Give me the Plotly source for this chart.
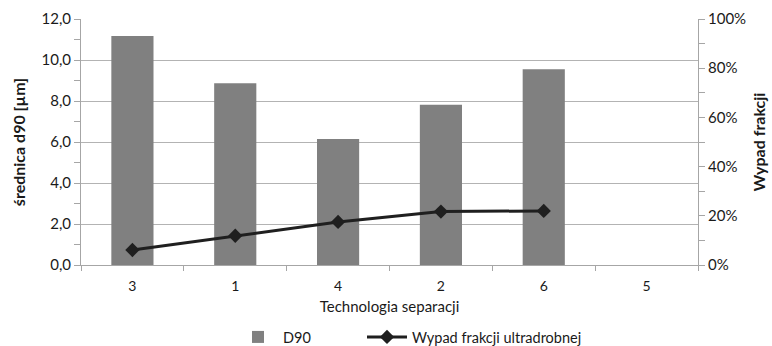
import plotly.graph_objects as go

# Separation technologies (category order on the x axis)
technologies = ["3", "1", "4", "2", "6", "5"]
# D90 diameter [µm] per technology (no value for technology 5)
d90 = [11.17, 8.86, 6.15, 7.82, 9.55, None]
# Ultrafine fraction yield per technology
ultrafine_yield = [0.061, 0.119, 0.175, 0.217, 0.220, None]

FONT = "Lato"
AXIS_GREY = "#a6a6a6"

fig = go.Figure()

fig.add_trace(go.Bar(
    x=technologies,
    y=d90,
    name="D90",
    marker=dict(color="#808080", line=dict(width=0)),
    width=0.41,
    yaxis="y",
    legend="legend",
))

fig.add_trace(go.Scatter(
    x=technologies,
    y=ultrafine_yield,
    name="Wypad frakcji ultradrobnej",
    mode="lines+markers",
    line=dict(color="#1f1f1f", width=3),
    marker=dict(symbol="diamond", size=11, color="#1f1f1f"),
    yaxis="y2",
    connectgaps=False,
    legend="legend2",
))

legend_common = dict(
    orientation="h",
    xref="container",
    yref="container",
    y=0.026,
    yanchor="middle",
    xanchor="left",
    font=dict(size=14.5),
    itemwidth=40,
    bgcolor="rgba(0,0,0,0)",
)

fig.update_layout(
    width=772,
    height=346,
    margin=dict(l=81, r=74, t=19, b=81, autoexpand=False),
    paper_bgcolor="white",
    plot_bgcolor="white",
    separators=", ",
    font=dict(family=FONT, size=15, color="#1a1a1a"),
    xaxis=dict(
        type="category",
        automargin=False,
        title=dict(text="Technologia separacji", font=dict(size=15), standoff=8),
        tickfont=dict(size=14),
        ticklabelstandoff=8,
        showline=True,
        linecolor=AXIS_GREY,
        linewidth=1,
        ticks="outside",
        tickson="boundaries",
        ticklen=5,
        tickcolor=AXIS_GREY,
        showgrid=False,
        range=[-0.5, 5.5],
    ),
    yaxis=dict(
        automargin=False,
        range=[0, 12],
        dtick=2,
        tickformat=".1f",
        title=dict(text="średnica d90 [µm]", font=dict(size=16, weight="bold"), standoff=11),
        showline=True,
        linecolor=AXIS_GREY,
        ticks="outside",
        ticklen=6,
        tickcolor=AXIS_GREY,
        showgrid=True,
        gridcolor="#b3b3b3",
        gridwidth=1,
        zeroline=False,
        minor=dict(dtick=1, ticks="outside", ticklen=6, tickcolor=AXIS_GREY, showgrid=False),
    ),
    yaxis2=dict(
        automargin=False,
        range=[0, 1],
        dtick=0.2,
        tickformat=".0%",
        overlaying="y",
        side="right",
        title=dict(text="Wypad frakcji", font=dict(size=16, weight="bold"), standoff=8),
        showline=True,
        linecolor=AXIS_GREY,
        ticks="outside",
        ticklen=6,
        tickcolor=AXIS_GREY,
        showgrid=False,
        zeroline=False,
        minor=dict(dtick=0.1, ticks="outside", ticklen=6, tickcolor=AXIS_GREY, showgrid=False),
    ),
    legend=dict(legend_common, x=233 / 772),
    legend2=dict(legend_common, x=362 / 772),
    showlegend=True,
)

fig.write_html("out.html")
